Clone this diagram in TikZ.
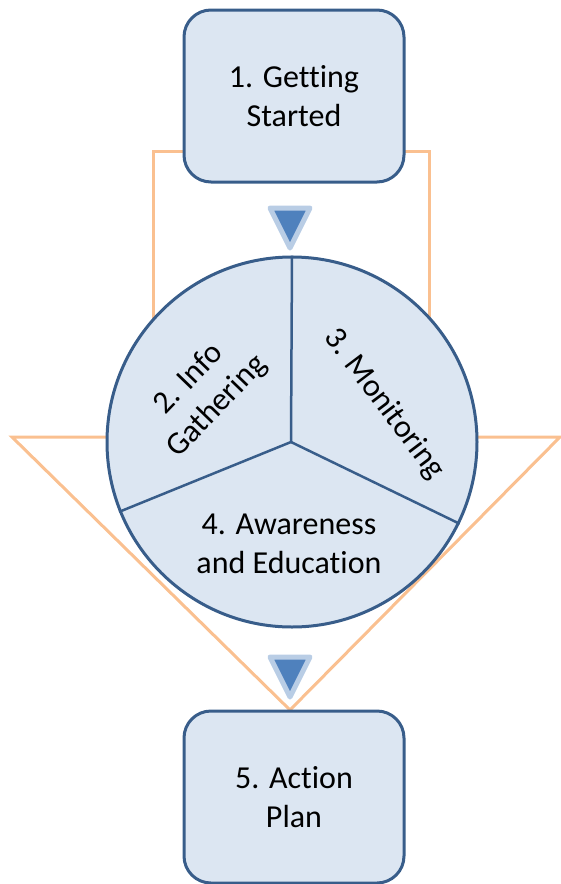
\documentclass[tikz,border=0pt]{standalone}
\usepackage{fontspec}
\setmainfont{Carlito}[Ligatures=NoCommon]
\definecolor{boxfill}{HTML}{DCE6F2}
\definecolor{boxline}{HTML}{385D8A}
\definecolor{orangeline}{HTML}{FAC090}
\definecolor{arrowfill}{HTML}{4F81BD}
\definecolor{arrowglow}{HTML}{B9CDE5}
\begin{document}
\begin{tikzpicture}[x=1pt,y=-1pt,
  stagebox/.style={draw=boxline,fill=boxfill,line width=3pt,rounded corners=27pt,
    minimum width=220pt,minimum height=172pt,align=center,
    font=\fontsize{32}{39}\selectfont},
  frame/.style={draw=orangeline,line width=3pt},
  pointer/.style={fill=arrowfill,draw=arrowglow,line width=5pt,line join=round},
  sector/.style={draw=boxline,line width=2.5pt},
  label/.style={align=center,font=\fontsize{32}{39}\selectfont}]
\useasboundingbox (0,0) rectangle (561,884);
% orange frames
\draw[frame] (153,437) -- (153,151) -- (429,151) -- (429,437);
\draw[frame] (12,437) -- (560,437) -- (290,710) -- cycle;
% boxes
\node[stagebox] (start) at (294,96) {1. Getting\\Started};
\node[stagebox] (plan) at (294,797) {5. Action\\Plan};
% circle
\node[circle,draw=boxline,fill=boxfill,line width=3pt,minimum size=370pt,inner sep=0pt] (wheel) at (292,442) {};
\coordinate (hub) at (291,442);
\draw[sector] (hub) -- (wheel.90);
\draw[sector] (hub) -- (wheel.202);
\draw[sector] (hub) -- (wheel.334);
% pointers
\draw[pointer] (270,208) -- (310,208) -- (290,248) -- cycle;
\draw[pointer] (270,657) -- (310,657) -- (290,697) -- cycle;
% labels
\node[label,rotate=46] (info) at (203,393) {2. Info\\Gathering};
\node[label,rotate=-53] (mon) at (384,404) {3. Monitoring};
\node[label] (aware) at (289,544) {4. Awareness\\and Education};
\end{tikzpicture}
\end{document}
